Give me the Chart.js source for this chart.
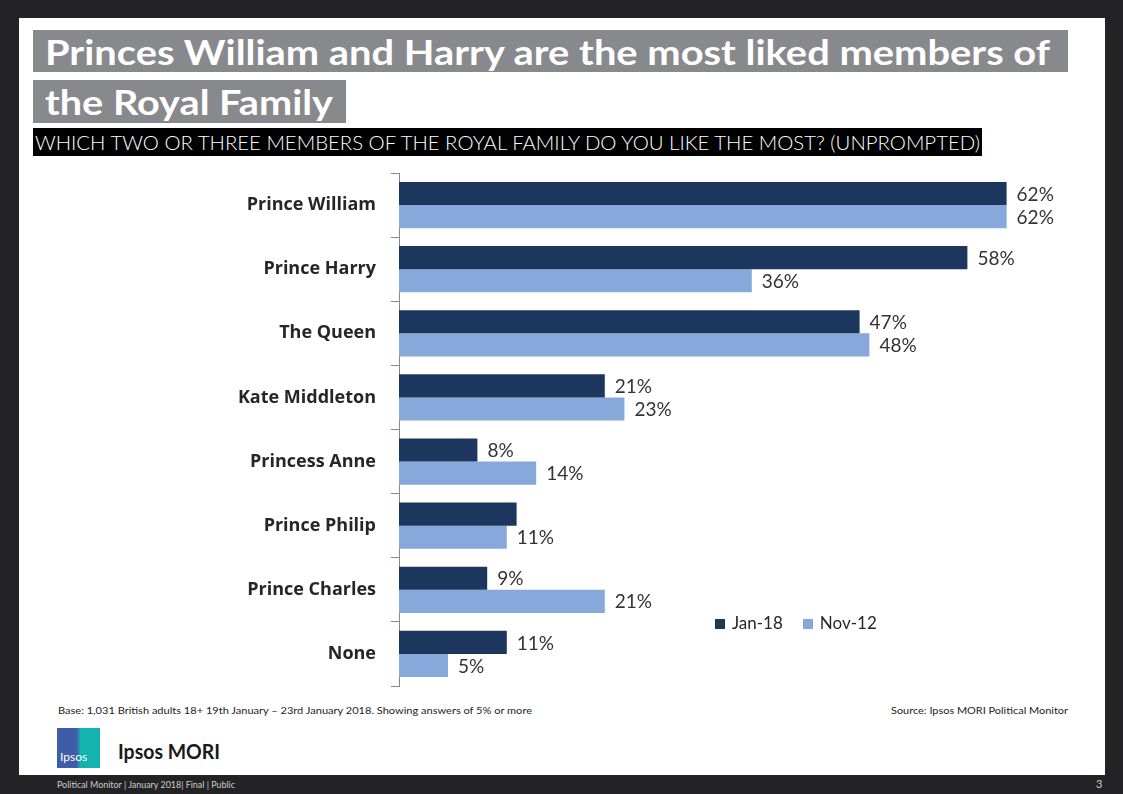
<!DOCTYPE html>
<html>
<head>
<meta charset="utf-8">
<script src="https://cdn.jsdelivr.net/npm/chart.js@4.4.1/dist/chart.umd.min.js"></script>
<style>
  html, body { margin: 0; padding: 0; }
  body { width: 1123px; height: 794px; background: #232325; position: relative; overflow: hidden; font-family: Lato, "Open Sans", sans-serif; }
  #slide { position: absolute; left: 19px; top: 18px; width: 1086px; height: 757px; background: #fff; }
  .tbox { position: absolute; background: #88898c; color: #fff; font-weight: bold; font-size: 34px; line-height: 43px; white-space: nowrap; }
  .fit { display: inline-block; transform-origin: 0 50%; white-space: nowrap; }
  #sub { position: absolute; left: 33px; top: 128px; width: 949px; height: 28px; background: #000; color: #fff; font-size: 20px; font-weight: 300; line-height: 28px; }
  #chartWrap { position: absolute; left: 20px; top: 170px; width: 1080px; height: 530px; }
  #legend { position: absolute; left: 715px; top: 612px; font-size: 17px; color: #262626; display: flex; gap: 20px; }
  #legend span.sw { display: inline-block; width: 10px; height: 10px; margin-right: 7px; }
  .foot { position: absolute; font-size: 10px; color: #222; white-space: nowrap; }
  #logo { position: absolute; left: 57px; top: 728px; width: 43px; height: 40px; background: linear-gradient(90deg, #3f5ca8 0%, #3f5ca8 45%, #14b3b0 55%, #14b3b0 100%); color: #fff; font-size: 12px; }
</style>
</head>
<body>
<div id="slide"></div>
<div class="tbox" style="left:33px; top:30px; width:1035px; height:42px;"><span class="fit" data-w="1005" style="margin-left:12px;">Princes William and Harry are the most liked members of</span></div>
<div class="tbox" style="left:33px; top:80px; width:313px; height:43px;"><span class="fit" data-w="288" style="margin-left:12px;">the Royal Family</span></div>
<div id="sub"><span class="fit" data-w="945" style="margin-left:2px;">WHICH TWO OR THREE MEMBERS OF THE ROYAL FAMILY DO YOU LIKE THE MOST? (UNPROMPTED)</span></div>

<div id="chartWrap"><canvas id="myChart"></canvas></div>
<div id="legend"></div>

<div class="foot" style="left:58px; top:704px;"><span class="fit" data-w="474">Base: 1,031 British adults 18+ 19th January – 23rd January 2018.  Showing answers of 5% or more</span></div>
<div class="foot" style="left:891px; top:704px;"><span class="fit" data-w="177">Source: Ipsos MORI Political Monitor</span></div>
<div id="logo"><span style="position:absolute; left:3px; bottom:4px;">Ipsos</span></div>
<div class="foot" style="left:118px; top:738px; font-size:21px; font-weight:bold; color:#1a1a1a;"><span class="fit" data-w="102">Ipsos MORI</span></div>
<div class="foot" style="left:57px; top:779px; font-size:9px; color:#ccc;"><span class="fit" data-w="178">Political Monitor | January 2018| Final | Public</span></div>
<div class="foot" style="left:1096px; top:777px; font-size:11px; color:#ccc;">3</div>

<script>
var categories = ["Prince William", "Prince Harry", "The Queen", "Kate Middleton", "Princess Anne", "Prince Philip", "Prince Charles", "None"];
var jan18 = [62, 58, 47, 21, 8, 12, 9, 11];
var nov12 = [62, 36, 48, 23, 14, 11, 21, 5];
// Prince Philip Jan-18 carries no label on the original slide
var jan18Labels = ["62%", "58%", "47%", "21%", "8%", "", "9%", "11%"];
var nov12Labels = ["62%", "36%", "48%", "23%", "14%", "11%", "21%", "5%"];
var seriesNames = ["Jan-18", "Nov-12"];
var colors = ["#1d365e", "#86a8db"];

function fitText () {
    document.querySelectorAll('.fit').forEach(function (el) {
        var w = el.getBoundingClientRect().width;
        var target = parseFloat(el.getAttribute('data-w'));
        if (w > 0) el.style.transform = 'scaleX(' + (target / w) + ')';
    });
}

var barLabels = {
    id: 'barLabels',
    afterDatasetsDraw: function (chart) {
        var ctx = chart.ctx;
        var all = [jan18Labels, nov12Labels];
        ctx.save();
        ctx.font = '19px Lato, "Open Sans", sans-serif';
        ctx.fillStyle = '#333333';
        ctx.textBaseline = 'middle';
        ctx.textAlign = 'left';
        chart.data.datasets.forEach(function (ds, i) {
            chart.getDatasetMeta(i).data.forEach(function (bar, j) {
                ctx.fillText(all[i][j], bar.x + 10, bar.y + 1);
            });
        });
        ctx.restore();
    }
};

function renderChart () {
    var ctx = document.getElementById("myChart").getContext('2d');
    var myChart = new Chart(ctx, {
        type: 'bar',
        data: {
            labels: categories,
            datasets: [
                { label: seriesNames[0], data: jan18, backgroundColor: colors[0] },
                { label: seriesNames[1], data: nov12, backgroundColor: colors[1] }
            ]
        },
        options: {
            indexAxis: 'y',
            responsive: true,
            maintainAspectRatio: false,
            animation: false,
            layout: { padding: { top: 3, bottom: 14, right: 15, left: 0 } },
            datasets: { bar: { categoryPercentage: 0.72, barPercentage: 1.0 } },
            scales: {
                x: { display: false, min: 0, max: 70 },
                y: {
                    afterFit: function (axis) { axis.width = 379; axis.paddingTop = 0; axis.paddingBottom = 0; },
                    grid: { drawOnChartArea: false, tickLength: 8, color: '#888888' },
                    border: { color: '#888888', width: 1 },
                    ticks: { padding: 15, color: '#262626', font: { family: '"Open Sans", sans-serif', size: 18, weight: 'bold' } }
                }
            },
            plugins: { legend: { display: false }, tooltip: { enabled: false } }
        },
        plugins: [barLabels]
    });
    var lg = document.getElementById('legend');
    myChart.data.datasets.forEach(function (ds) {
        var item = document.createElement('div');
        item.innerHTML = '<span class="sw" style="background:' + ds.backgroundColor + '"></span>' + ds.label;
        lg.appendChild(item);
    });
}

renderChart();
fitText();
</script>
</body>
</html>
